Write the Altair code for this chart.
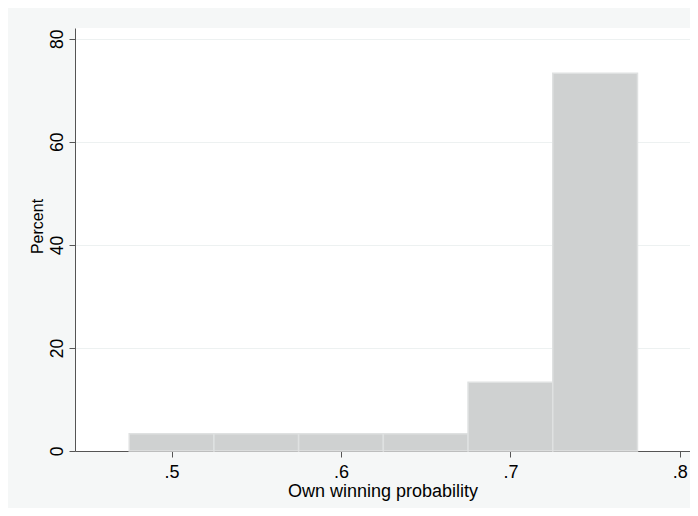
import altair as alt
import pandas as pd

bin_start = [0.475, 0.525, 0.575, 0.625, 0.675, 0.725]
bin_end = [0.525, 0.575, 0.625, 0.675, 0.725, 0.775]
percent = [3.333, 3.333, 3.333, 3.333, 13.333, 73.333]
x_ticks = [0.5, 0.6, 0.7, 0.8]
y_ticks = [0, 20, 40, 60, 80]

df = pd.DataFrame({"start": bin_start, "end": bin_end, "pct": percent})

font = "Liberation Sans"

chart = alt.Chart(df).mark_bar(
    fill="#cfd1d1", stroke="#dfe1e1", strokeWidth=1.5
).encode(
    x=alt.X("start:Q",
            scale=alt.Scale(domain=[0.443, 0.806], nice=False, zero=False),
            axis=alt.Axis(values=x_ticks, labelExpr="replace(format(datum.value, '.1f'), '0.', '.')",
                          title="Own winning probability", grid=False,
                          domainColor="#555555", tickColor="#555555", tickSize=6,
                          labelFontSize=18, titleFontSize=18, labelFont=font, titleFont=font,
                          labelColor="#000000", titleColor="#000000", titleFontWeight="normal",
                          labelPadding=6, titleBaseline="top", titleY=31, labelFlush=False)),
    x2="end:Q",
    y=alt.Y("pct:Q",
            scale=alt.Scale(domain=[0, 82.1], nice=False),
            axis=alt.Axis(values=y_ticks, title="Percent", grid=True, gridColor="#edf1f1",
                          domainColor="#555555", tickColor="#555555", tickSize=6,
                          labelAngle=270, labelAlign="center", labelBaseline="bottom",
                          labelFontSize=17.5, titleFontSize=16, labelFont=font,
                          titleFont="Liberation Sans Narrow, Liberation Sans",
                          labelColor="#000000", titleColor="#000000", titleFontWeight="normal",
                          titleAngle=270, titleAlign="center", titleBaseline="middle",
                          titleX=-38, titleY=198,
                          labelPadding=3, labelFlush=False)),
    y2=alt.Y2(datum=0),
).properties(
    width=615, height=423,
    autosize=alt.AutoSizeParams(type="none"),
    padding={"left": 67, "top": 20, "right": 0, "bottom": 57},
    background="#f5f7f7",
).configure_view(fill="#ffffff", stroke=None)

chart.save("out.html", embed_options={"renderer": "svg", "actions": False})
